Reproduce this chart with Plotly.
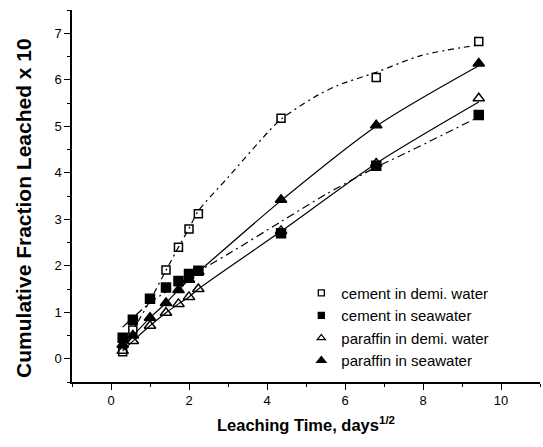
import plotly.graph_objects as go

# Data (x = sqrt(days), y = cumulative fraction leached x 10)
x_pts = [0.30, 0.56, 1.00, 1.41, 1.73, 2.00, 2.24, 4.36, 6.80, 9.43]

cement_demi = [0.15, 0.62, None, 1.91, 2.40, 2.79, 3.12, 5.17, 6.05, 6.82]
cement_sea = [0.45, 0.84, 1.29, 1.53, 1.67, 1.82, 1.89, 2.70, 4.15, 5.24]
paraffin_demi = [0.17, 0.38, 0.71, 0.99, 1.18, 1.33, 1.50, 2.75, 4.20, 5.60]
paraffin_sea = [0.30, 0.50, 0.88, 1.20, 1.48, 1.70, 1.87, 3.42, 5.02, 6.35]

# Fitted curves
fit_cd_x = [0.30, 0.56, 1.00, 1.41, 1.73, 2.00, 2.24, 3.00, 4.00, 4.36, 5.20, 5.82, 6.80, 7.95, 9.43]
fit_cd_y = [0.20, 0.60, 1.25, 1.90, 2.40, 2.80, 3.18, 3.90, 4.85, 5.15, 5.62, 5.88, 6.16, 6.52, 6.75]
fit_cs_x = [0.30, 1.00, 2.00, 3.00, 4.36, 5.56, 6.80, 7.60, 9.43]
fit_cs_y = [0.68, 1.20, 1.76, 2.25, 2.95, 3.56, 4.12, 4.44, 5.20]
fit_pd_x = x_pts
fit_pd_y = [0.17, 0.38, 0.71, 0.99, 1.18, 1.33, 1.50, 2.74, 4.20, 5.52]
fit_ps_x = x_pts
fit_ps_y = [0.30, 0.50, 0.88, 1.20, 1.48, 1.70, 1.87, 3.40, 5.00, 6.30]

names = ["cement in demi. water", "cement in seawater",
         "paraffin in demi. water", "paraffin in seawater"]

fig = go.Figure()

line_style = dict(color="black", width=1.2)
fig.add_trace(go.Scatter(x=fit_cd_x, y=fit_cd_y, mode="lines", showlegend=False,
                         line=dict(line_style, dash="6px,4px,2px,4px", shape="spline", smoothing=0.8)))
fig.add_trace(go.Scatter(x=fit_cs_x, y=fit_cs_y, mode="lines", showlegend=False,
                         line=dict(line_style, dash="8px,4px,2px,4px", shape="spline", smoothing=0.8)))
fig.add_trace(go.Scatter(x=fit_pd_x, y=fit_pd_y, mode="lines", showlegend=False,
                         line=dict(line_style, shape="spline", smoothing=0.8)))
fig.add_trace(go.Scatter(x=fit_ps_x, y=fit_ps_y, mode="lines", showlegend=False,
                         line=dict(line_style, shape="spline", smoothing=0.8)))

symbols = ["square-open", "square", "triangle-up-open", "triangle-up"]
sizes = [8, 9, 10, 10]
legend_sizes = [6, 6, 7, 8]
for name, ys, sym, sz, lsz in zip(names, [cement_demi, cement_sea, paraffin_demi, paraffin_sea],
                                   symbols, sizes, legend_sizes):
    fig.add_trace(go.Scatter(x=x_pts, y=ys, mode="markers", name=name, showlegend=False,
                             marker=dict(symbol=sym, size=sz, color="black",
                                         line=dict(color="black", width=1.5))))
    # legend entry with smaller symbol, as in the reference
    fig.add_trace(go.Scatter(x=[None], y=[None], mode="markers", name=name,
                             marker=dict(symbol=sym, size=lsz, color="black",
                                         line=dict(color="black", width=1.3))))

tick_font = dict(family="Liberation Sans, Arial", size=13, color="black")
fig.update_layout(
    width=543, height=447,
    margin=dict(l=72, r=3, t=10, b=65),
    paper_bgcolor="white", plot_bgcolor="white",
    font=dict(family="Liberation Sans, Arial", color="black"),
    legend=dict(x=0.49, y=0.283, xanchor="left", yanchor="top",
                font=dict(family="Liberation Sans, Arial", size=15, color="black"),
                bgcolor="rgba(0,0,0,0)", itemsizing="trace", tracegroupgap=0),
    xaxis=dict(range=[-1, 11], showgrid=False, zeroline=False, showline=True,
               linecolor="black", linewidth=1.5, ticks="outside", ticklen=6, tickwidth=1.2,
               tickcolor="black", dtick=2, tick0=0, tickfont=tick_font,
               minor=dict(dtick=1, ticks="outside", ticklen=3, tickcolor="black", tickwidth=1),
               title=dict(text="Leaching Time, days<sup>1/2</sup>", standoff=12,
                          font=dict(family="Liberation Sans, Arial",
                                    size=16.5, color="black", weight="bold"))),
    yaxis=dict(range=[-0.5, 7.5], showgrid=False, zeroline=False, showline=True,
               linecolor="black", linewidth=1.5, ticks="outside", ticklen=6, tickwidth=1.2,
               tickcolor="black", dtick=1, tick0=0, tickfont=tick_font,
               minor=dict(dtick=0.5, ticks="outside", ticklen=3, tickcolor="black", tickwidth=1)),
    annotations=[dict(text="<b>Cumulative Fraction Leached x 10</b>", textangle=-90,
                      xref="paper", yref="paper", x=-0.1026, y=0.468,
                      xanchor="center", yanchor="middle", showarrow=False,
                      font=dict(family="Liberation Sans, Arial", size=21, color="black"))],
)

fig.write_html("out.html")
